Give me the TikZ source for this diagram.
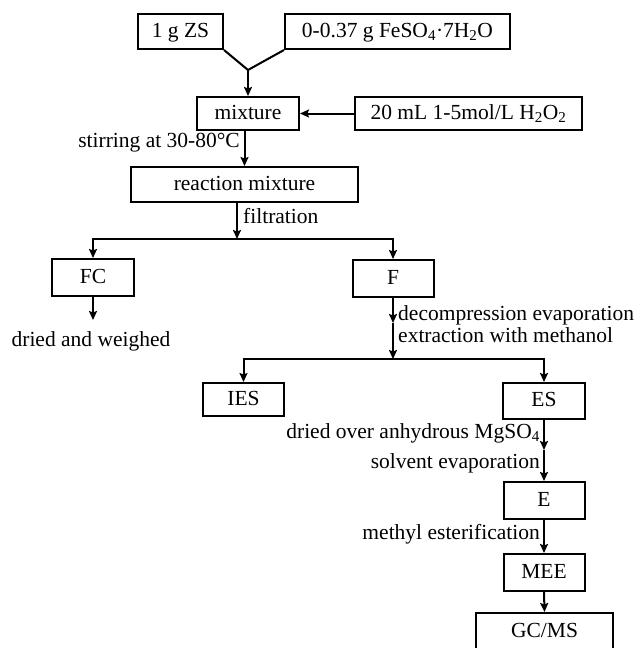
\documentclass[tikz,border=0pt]{standalone}
\usepackage{fontspec}
\setmainfont{Liberation Serif}
\usetikzlibrary{arrows.meta}

\begin{document}
\begin{tikzpicture}[x=1pt,y=-1pt,
    box/.style={draw,line width=2pt,inner sep=0pt,minimum height=35pt,text height=15pt,text depth=4pt},
    lbl/.style={inner sep=0pt,text height=15pt,text depth=4pt},
    arr/.style={line width=2pt,-{Stealth[length=9pt,width=8pt,inset=1.5pt]}},
    every node/.style={font=\fontsize{21.5}{26}\selectfont}]
\useasboundingbox (0,0) rectangle (639,648);

\node[box,minimum width=85pt] (zs) at (180.5,31.5) {1 g ZS};
\node[box,minimum width=225pt] (fe) at (397.5,31.5) {0-0.37 g FeSO\textsubscript{4}·7H\textsubscript{2}O};
\coordinate (j) at (248,70);
\node[box,minimum width=102pt,minimum height=33pt] (mix) at (248,113.5) {mixture};
\node[box,minimum width=227pt,minimum height=33pt] (hp) at (468.5,113.5) {20 mL 1-5mol/L H\textsubscript{2}O\textsubscript{2}};
\node[box,minimum width=227pt] (rm) at (244.5,184.5) {reaction mixture};
\coordinate (s1) at (237,239);
\node[box,minimum width=82pt,minimum height=37pt] (fc) at (93,277.5) {FC};
\node[box,minimum width=81pt,minimum height=37pt] (f) at (393,278.5) {F};
\coordinate (d1) at (93,320);
\node[lbl] (dw) at (91,341) {dried and weighed};
\coordinate (m1) at (393,323);
\coordinate (s2) at (393,359);
\node[box,minimum width=81pt,minimum height=33pt] (ies) at (243.5,399.5) {IES};
\node[box,minimum width=82pt,minimum height=36pt] (es) at (544,401) {ES};
\coordinate (m2) at (544,450);
\node[box,minimum width=81pt,minimum height=37pt] (e) at (544,500.5) {E};
\node[box,minimum width=81pt,minimum height=37pt] (mee) at (544,572.5) {MEE};
\node[box,minimum width=137pt,minimum height=38pt] (gc) at (544.5,632) {GC/MS};

\draw[line width=2pt] (zs.south east) -- (j) -- (fe.south west);
\draw[arr] (j) -- (mix.north);
\draw[arr] (hp.west) -- (mix.east);
\draw[arr] (rm.north |- mix.south) -- (rm.north);
\node[lbl,anchor=east] (st) at (240,142) {stirring at 30-80°C};
\draw[arr] (rm.south -| s1) -- (s1);
\node[lbl,anchor=west] (fi) at (243,218) {filtration};
\draw[arr] (s1) -| (fc.north);
\draw[arr] (s1) -| (f.north);

\draw[arr] (fc.south) -- (d1);
\draw[arr] (f.south) -- (m1);
\draw[arr] (m1) -- (s2);
\node[lbl,anchor=west] (de) at (398,315) {decompression evaporation};
\node[lbl,anchor=west] (ex) at (398,337) {extraction with methanol};
\draw[arr] (s2) -| (ies.north);
\draw[arr] (s2) -| (es.north);

\draw[arr] (es.south) -- (m2);
\draw[arr] (m2) -- (e.north);
\node[lbl,anchor=east] (dr) at (540,433) {dried over anhydrous MgSO\textsubscript{4}};
\node[lbl,anchor=east] (so) at (540,463) {solvent evaporation};
\draw[arr] (e.south) -- (mee.north);
\node[lbl,anchor=east] (me) at (540,534) {methyl esterification};
\draw[arr] (mee.south) -- (gc.north);

\end{tikzpicture}
\end{document}
